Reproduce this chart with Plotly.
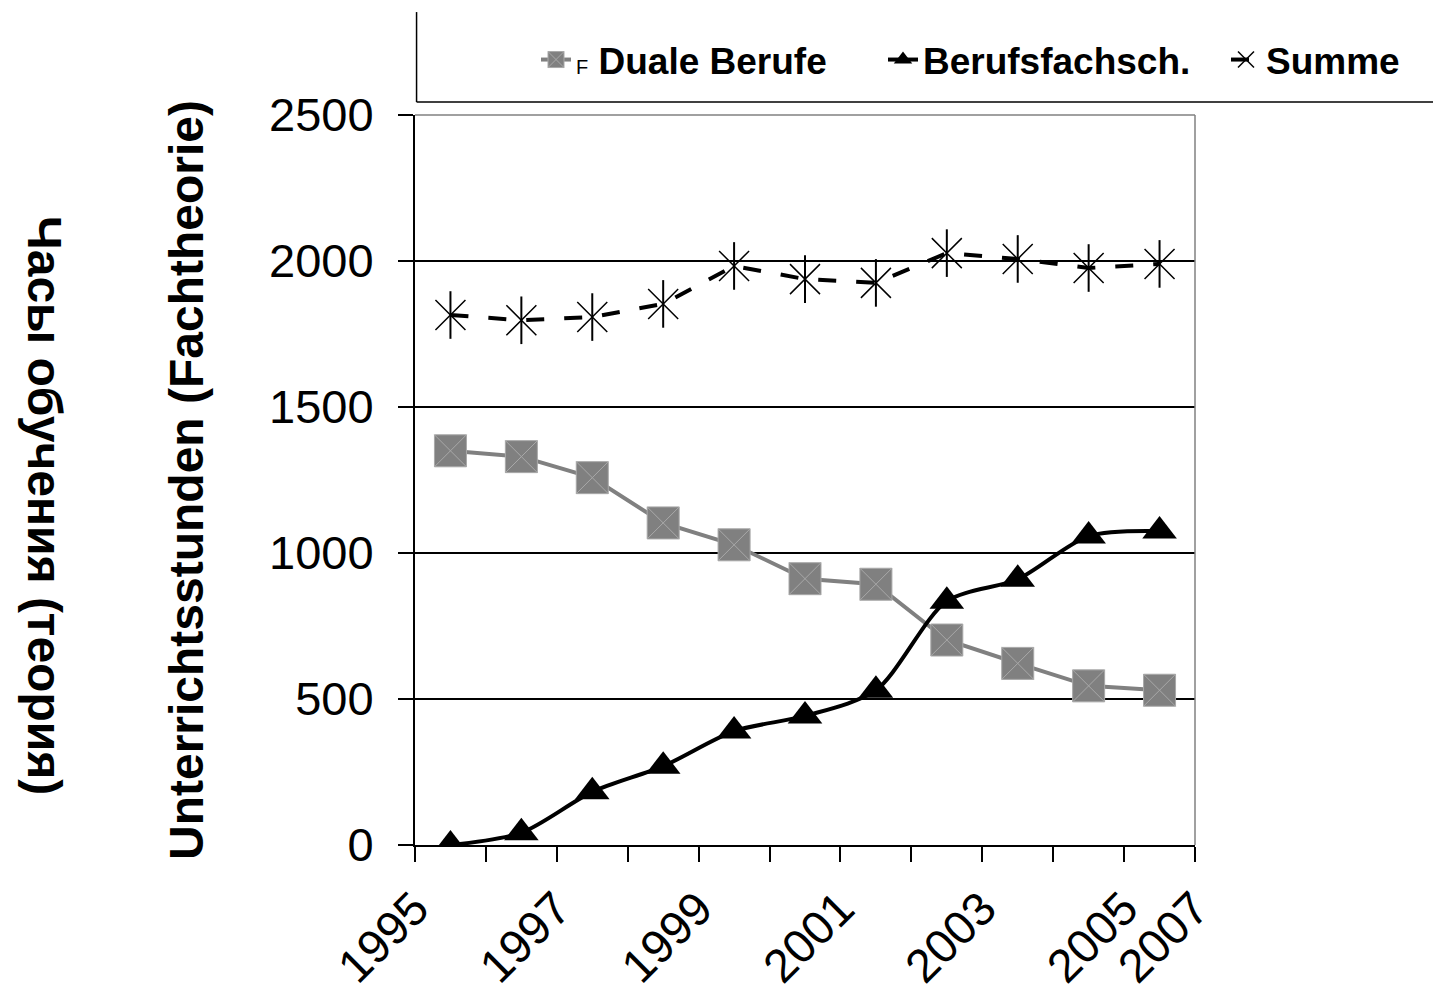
import plotly.graph_objects as go

# Data (11 half-year-centred categories on an axis labelled 1995..2007)
tick_labels = ["1995", "1997", "1999", "2001", "2003", "2005", "2007"]
tick_positions = [0, 2, 4, 6, 8, 10, 11]

duale = [1350, 1330, 1258, 1103, 1028, 912, 893, 702, 622, 545, 530]
berufsfach = [0, 42, 182, 270, 390, 442, 530, 835, 910, 1058, 1075]
summe = [1815, 1797, 1808, 1853, 1983, 1938, 1925, 2027, 2007, 1976, 1990]

x_pos = [i + 0.5 for i in range(len(duale))]

FONT = "Liberation Sans, Arial, sans-serif"
OFF = 8  # page body margin

fig = go.Figure()

fig.add_trace(go.Scatter(
    x=x_pos, y=duale, mode="lines+markers", legend="legend",
    name="<span style='font-size:20px;font-weight:normal'>F</span> Duale Berufe",
    line=dict(color="#808080", width=4),
    marker=dict(symbol="square-x", size=32, color="#808080",
                line=dict(color="#a8a8a8", width=1)),
))
fig.add_trace(go.Scatter(
    x=x_pos, y=berufsfach, mode="lines+markers", name="Berufsfachsch.",
    legend="legend2",
    line=dict(color="black", width=4, shape="spline", smoothing=0.8),
    marker=dict(symbol="triangle-up", size=30, color="black"),
))
fig.add_trace(go.Scatter(
    x=x_pos, y=summe, mode="lines+markers", name="Summe", legend="legend3",
    line=dict(color="black", width=4, dash="18px,20px"),
    marker=dict(symbol="x-thin-open", size=30, color="black",
                line=dict(color="black", width=1.5)),
))
fig.add_trace(go.Scatter(
    x=x_pos, y=summe, mode="markers", showlegend=False, hoverinfo="skip",
    marker=dict(symbol="line-ns-open", size=34, color="black",
                line=dict(color="black", width=2)),
))


def legend_at(px):
    return dict(
        orientation="h", xref="container", yref="container",
        x=(px - OFF) / 1441, xanchor="left",
        y=1 - (60 - OFF) / 999, yanchor="middle",
        font=dict(family=FONT, size=37, color="black", weight="bold"),
        bgcolor="rgba(0,0,0,0)",
    )


fig.update_layout(
    width=1441, height=999,
    margin=dict(l=415 - OFF, r=246 + OFF, t=115 - OFF, b=154 + OFF),
    paper_bgcolor="white", plot_bgcolor="white",
    font=dict(family=FONT, color="black"),
    showlegend=True,
    legend=legend_at(536),
    legend2=legend_at(883),
    legend3=legend_at(1226),
    xaxis=dict(
        range=[0, 11], tickmode="array", tickvals=tick_positions,
        ticktext=tick_labels, tickangle=-45, automargin=False,
        tickfont=dict(family=FONT, size=47, color="black"),
        ticks="outside", ticklen=15, tickwidth=1.5, tickcolor="black",
        showline=True, linecolor="black", linewidth=2,
        showgrid=False, zeroline=False,
        minor=dict(ticks="outside", ticklen=15, tickwidth=1.5,
                   tickcolor="black", dtick=1, tick0=0, showgrid=False),
    ),
    yaxis=dict(
        range=[0, 2500], dtick=500, tick0=0, automargin=False,
        tickfont=dict(family=FONT, size=47, color="black"),
        ticklabelstandoff=15,
        ticks="outside", ticklen=15, tickwidth=1.5, tickcolor="black",
        showline=True, linecolor="black", linewidth=2,
        showgrid=True, gridcolor="black", gridwidth=1.5,
        zeroline=False,
        title=dict(text="Unterrichtsstunden (Fachtheorie)", standoff=50,
                   font=dict(family=FONT, size=48, color="black", weight="bold")),
    ),
    shapes=[
        # plot-area top and right border (gray)
        dict(type="line", xref="paper", yref="paper", x0=0, x1=1, y0=1, y1=1,
             line=dict(color="#808080", width=1.5)),
        dict(type="line", xref="paper", yref="paper", x0=1, x1=1, y0=0, y1=1,
             line=dict(color="#808080", width=1.5)),
        # legend box (left and bottom edges visible)
        dict(type="line", xref="paper", yref="paper", x0=0.002, x1=0.002,
             y0=1.0178, y1=1.141, line=dict(color="black", width=1.5)),
        dict(type="line", xref="paper", yref="paper", x0=0.002, x1=1.4,
             y0=1.0178, y1=1.0178, line=dict(color="black", width=1.5)),
    ],
    annotations=[
        dict(text="Часы обучения (теория)", xref="paper", yref="paper",
             x=(45 - 415) / 780, y=(845 - 505) / 730,
             xanchor="center", yanchor="middle",
             textangle=90, showarrow=False,
             font=dict(family=FONT, size=48, color="black", weight="bold")),
    ],
)

fig.write_html("out.html")
